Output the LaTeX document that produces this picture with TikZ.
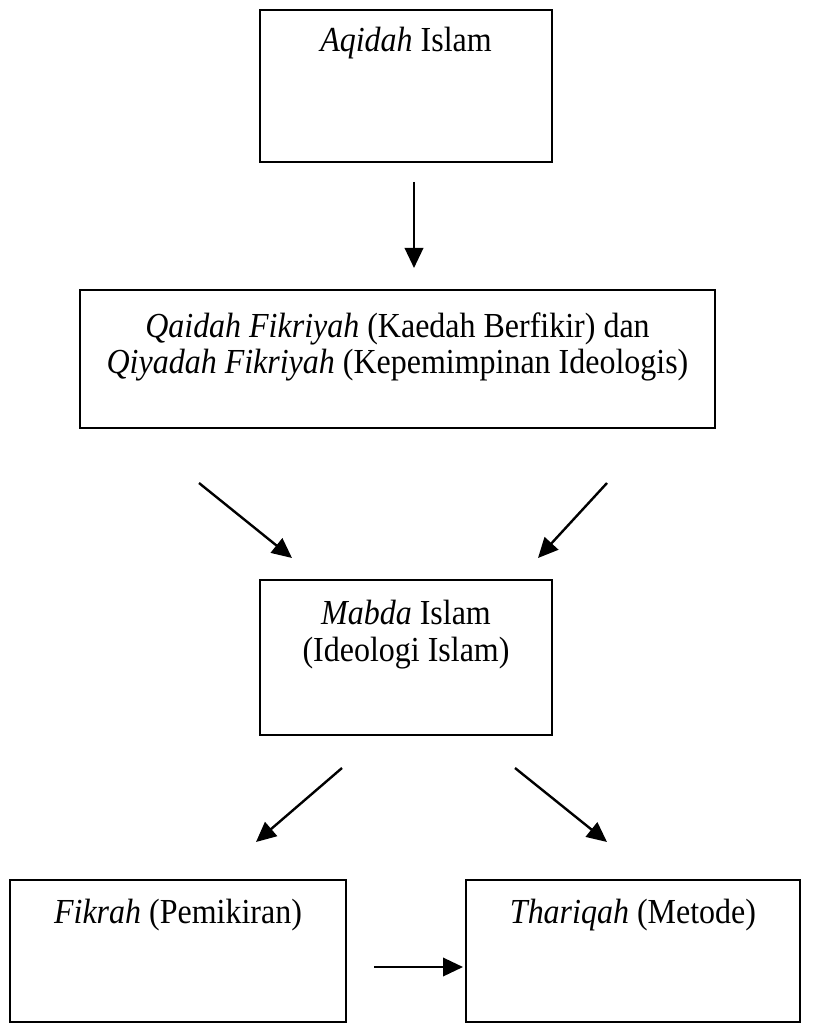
\documentclass[tikz,border=0pt]{standalone}
\usepackage{fontspec}
\setmainfont[FakeStretch=0.91]{Liberation Serif}
\usepackage{tikz}
\usetikzlibrary{arrows.meta,positioning}

\tikzset{
	kotak/.style={draw, rectangle, line width=1.2pt, inner sep=0pt},
	tulisan/.style={anchor=north, inner sep=0pt, align=center, font=\fontsize{25}{25.8}\selectfont},
	panah/.style={-{Triangle[length=0.5cm,width=0.46cm]}, line width=1.7pt}
}

\begin{document}
\begin{tikzpicture}
		\useasboundingbox (0,0) rectangle (20.3,-25.7);
		\node[kotak, minimum width=7.3cm, minimum height=3.8cm] (aqidah) at (10.15,-2.15) {};
		\node[kotak, minimum width=15.875cm, minimum height=3.45cm] (qaidah) at (9.9375,-8.975) {};
		\node[kotak, minimum width=7.3cm, minimum height=3.875cm] (mabda) at (10.15,-16.4375) {};
		\node[kotak, minimum width=8.4cm, minimum height=3.55cm] (fikrah) at (4.45,-23.775) {};
		\node[kotak, minimum width=8.35cm, minimum height=3.55cm] (thariqah) at (15.825,-23.775) {};
	
		\node[tulisan] (aqidahtxt) [below=0.45cm of aqidah.north] {\textit{Aqidah} Islam};
		\node[tulisan] (qaidahtxt) [below=0.575cm of qaidah.north] {\textit{Qaidah Fikriyah} (Kaedah Berfikir) dan\\\textit{Qiyadah Fikriyah} (Kepemimpinan Ideologis)};
		\node[tulisan] (mabdatxt) [below=0.525cm of mabda.north] {\textit{Mabda} Islam\\(Ideologi Islam)};
		\node[tulisan] (fikrahtxt) [below=0.5cm of fikrah.north] {\textit{Fikrah} (Pemikiran)};
		\node[tulisan] (thariqahtxt) [below=0.5cm of thariqah.north] {\textit{Thariqah} (Metode)};
	
		\coordinate (a1) at (10.35,-4.55);
		\coordinate (a2) at (10.35,-6.7);
		\coordinate (b1) at (4.975,-12.075);
		\coordinate (b2) at (7.3,-13.95);
		\coordinate (c1) at (15.175,-12.075);
		\coordinate (c2) at (13.45,-13.95);
		\coordinate (d1) at (8.55,-19.2);
		\coordinate (d2) at (6.4,-21.05);
		\coordinate (e1) at (12.875,-19.2);
		\coordinate (e2) at (15.175,-21.05);
		\coordinate (f1) at (9.35,-24.175);
		\coordinate (f2) at (11.575,-24.175);
	
		\draw[panah] (a1) -- (a2);
		\draw[panah] (b1) -- (b2);
		\draw[panah] (c1) -- (c2);
		\draw[panah] (d1) -- (d2);
		\draw[panah] (e1) -- (e2);
		\draw[panah] (f1) -- (f2);
\end{tikzpicture}
\end{document}
